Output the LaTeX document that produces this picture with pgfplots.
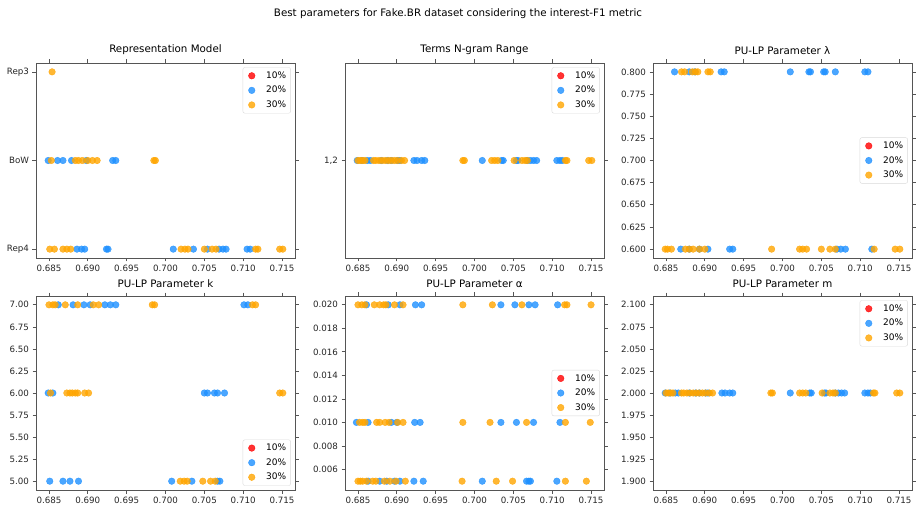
\documentclass[border=0pt]{standalone}
\usepackage{fontspec}
\setmainfont{DejaVu Sans}
\usepackage{pgfplots}
\pgfplotsset{compat=1.18}
\definecolor{c10}{HTML}{FF0000}
\definecolor{c20}{HTML}{1E90FF}
\definecolor{c30}{HTML}{FFA500}
\definecolor{spine}{HTML}{555555}

\pgfplotsset{
  panel/.style={
    scale only axis, width=259pt, height=195pt, anchor=south west,
    xmin=0.68333, xmax=0.71667,
    xtick={0.685,0.690,0.695,0.700,0.705,0.710,0.715},
    scaled x ticks=false, scaled y ticks=false,
    /pgf/number format/assume math mode=true,
    xticklabel style={/pgf/number format/fixed, /pgf/number format/fixed zerofill, /pgf/number format/precision=3},
    tick label style={font=\fontsize{8.7}{10}\selectfont, text=black!85},
    tick align=outside, major tick length=3.5pt,
    every tick/.style={spine, line width=0.7pt},
    axis line style={spine, line width=0.8pt},
    title style={font=\fontsize{10.3}{12}\selectfont, yshift=-1pt},
    legend style={at={(0.984,0.978)}, anchor=north east, draw=black!15, rounded corners=2pt,
      fill=white, fill opacity=0.8, text opacity=1, font=\fontsize{9}{10}\selectfont,
      cells={anchor=west}, row sep=4pt, inner xsep=3pt, inner ysep=3pt,
      nodes={inner xsep=1.5pt, inner ysep=1.2pt},
      /tikz/every odd column/.append style={column sep=7pt}},
    clip=false,
  },
  pt/.style={only marks, mark=*, mark size=3.3pt, color=#1, opacity=0.8,
    mark options={draw=none, fill=#1},
    legend image code/.code={\path (0cm,0cm) (0.4cm,0cm);
      \fill[#1, opacity=0.8] (0.2cm,0cm) circle[radius=3.3pt];}},
  pt10/.style={pt=c10},
  pt20/.style={pt=c20},
  pt30/.style={pt=c30},
}

\begin{document}
\begin{tikzpicture}
\path[use as bounding box] (0pt,0pt) rectangle (916pt,509pt);
\node[font=\fontsize{10.3}{12}\selectfont] at (458pt,495pt) {Best parameters for Fake.BR dataset considering the interest-F1 metric};

% Representation Model
\begin{axis}[panel, at={(36pt,251pt)}, title={Representation Model},
  ymin=-0.1, ymax=2.1, ytick={0,1,2}, yticklabels={Rep4,BoW,Rep3}]
\addlegendimage{pt10}\addlegendentry{10\%}
\addplot[pt20] coordinates {
 (0.6849,1)(0.6861,1)(0.6868,1)(0.6879,1)(0.6898,1)(0.6932,1)(0.6936,1)
 (0.6886,0)(0.6892,0)(0.6896,0)(0.6924,0)(0.6926,0)(0.7010,0)(0.7036,0)(0.7054,0)
 (0.7069,0)(0.7074,0)(0.7078,0)(0.7105,0)(0.7109,0)};
\addlegendentry{20\%}
\addplot[pt30] coordinates {
 (0.6854,2)
 (0.6853,1)(0.6884,1)(0.6888,1)(0.6893,1)(0.6900,1)(0.6906,1)(0.6912,1)(0.6985,1)(0.6987,1)
 (0.6851,0)(0.6857,0)(0.6868,0)(0.6873,0)(0.6878,0)(0.7020,0)(0.7025,0)(0.7029,0)
 (0.7050,0)(0.7060,0)(0.7065,0)(0.7116,0)(0.7119,0)(0.7147,0)(0.7151,0)};
\addlegendentry{30\%}
\end{axis}

% Terms N-gram Range
\begin{axis}[panel, at={(345pt,251pt)}, title={Terms N-gram Range},
  ymin=-1, ymax=1, ytick={0}, yticklabels={1{,}2}]
\addlegendimage{pt10}\addlegendentry{10\%}
\addplot[pt20] coordinates {
 (0.6849,0)(0.6855,0)(0.6862,0)(0.6866,0)(0.6880,0)(0.6888,0)(0.6893,0)(0.6901,0)(0.6904,0)
 (0.6922,0)(0.6926,0)(0.6932,0)(0.6936,0)(0.7010,0)(0.7035,0)(0.7037,0)(0.7054,0)(0.7056,0)
 (0.7068,0)(0.7072,0)(0.7076,0)(0.7080,0)(0.7106,0)(0.7110,0)(0.7113,0)};
\addlegendentry{20\%}
\addplot[pt30] coordinates {
 (0.6850,0)(0.6853,0)(0.6856,0)(0.6859,0)(0.6870,0)(0.6873,0)(0.6877,0)(0.6881,0)(0.6885,0)
 (0.6889,0)(0.6893,0)(0.6897,0)(0.6901,0)(0.6906,0)(0.6910,0)(0.6985,0)(0.6987,0)(0.7022,0)
 (0.7026,0)(0.7030,0)(0.7051,0)(0.7061,0)(0.7065,0)(0.7068,0)(0.7117,0)(0.7119,0)(0.7147,0)(0.7151,0)};
\addlegendentry{30\%}
\end{axis}

% PU-LP Parameter lambda
\begin{axis}[panel, at={(653pt,251pt)}, title={PU-LP Parameter λ},
  ymin=0.59, ymax=0.81, ytick={0.6,0.625,0.65,0.675,0.7,0.725,0.75,0.775,0.8},
  yticklabel style={/pgf/number format/fixed, /pgf/number format/fixed zerofill, /pgf/number format/precision=3},
  legend style={at={(0.984,0.5)}, anchor=east}]
\addlegendimage{pt10}\addlegendentry{10\%}
\addplot[pt20] coordinates {
 (0.6861,0.8)(0.6880,0.8)(0.6887,0.8)(0.6921,0.8)(0.6925,0.8)(0.7010,0.8)(0.7034,0.8)(0.7036,0.8)
 (0.7053,0.8)(0.7055,0.8)(0.7068,0.8)(0.7106,0.8)(0.7110,0.8)
 (0.6869,0.6)(0.6880,0.6)(0.6893,0.6)(0.6904,0.6)(0.6932,0.6)(0.6936,0.6)(0.7070,0.6)
 (0.7075,0.6)(0.7081,0.6)(0.7115,0.6)};
\addlegendentry{20\%}
\addplot[pt30] coordinates {
 (0.6870,0.8)(0.6874,0.8)(0.6884,0.8)(0.6888,0.8)(0.6891,0.8)(0.6904,0.8)(0.6907,0.8)
 (0.6849,0.6)(0.6852,0.6)(0.6857,0.6)(0.6875,0.6)(0.6880,0.6)(0.6885,0.6)(0.6893,0.6)(0.6900,0.6)
 (0.6986,0.6)(0.7022,0.6)(0.7026,0.6)(0.7031,0.6)(0.7050,0.6)(0.7061,0.6)(0.7068,0.6)
 (0.7118,0.6)(0.7145,0.6)(0.7151,0.6)};
\addlegendentry{30\%}
\end{axis}

% PU-LP Parameter k
\begin{axis}[panel, at={(36pt,19pt)}, height=194pt, title={PU-LP Parameter k},
  ymin=4.9, ymax=7.1, ytick={5,5.25,5.5,5.75,6,6.25,6.5,6.75,7},
  yticklabel style={/pgf/number format/fixed, /pgf/number format/fixed zerofill, /pgf/number format/precision=2},
  legend style={at={(0.984,0.022)}, anchor=south east}]
\addlegendimage{pt10}\addlegendentry{10\%}
\addplot[pt20] coordinates {
 (0.6862,7)(0.6881,7)(0.6895,7)(0.6903,7)(0.6922,7)(0.6929,7)(0.6936,7)(0.7101,7)(0.7106,7)
 (0.6849,6)(0.6855,6)(0.7050,6)(0.7054,6)(0.7063,6)(0.7067,6)(0.7076,6)
 (0.6851,5)(0.6868,5)(0.6877,5)(0.6888,5)(0.7008,5)(0.7034,5)(0.7067,5)(0.7070,5)};
\addlegendentry{20\%}
\addplot[pt30] coordinates {
 (0.6850,7)(0.6855,7)(0.6858,7)(0.6871,7)(0.6887,7)(0.6907,7)(0.6914,7)(0.6983,7)(0.6986,7)
 (0.7112,7)(0.7116,7)
 (0.6852,6)(0.6873,6)(0.6877,6)(0.6880,6)(0.6884,6)(0.6887,6)(0.6896,6)(0.6901,6)(0.7147,6)(0.7151,6)
 (0.7019,5)(0.7024,5)(0.7028,5)(0.7048,5)(0.7058,5)(0.7064,5)};
\addlegendentry{30\%}
\end{axis}

% PU-LP Parameter alpha
\begin{axis}[panel, at={(345pt,19pt)}, height=194pt, title={PU-LP Parameter α},
  ymin=0.00425, ymax=0.02075, ytick={0.006,0.008,0.010,0.012,0.014,0.016,0.018,0.020},
  yticklabel style={/pgf/number format/fixed, /pgf/number format/fixed zerofill, /pgf/number format/precision=3},
  legend style={at={(0.984,0.5)}, anchor=east}]
\addlegendimage{pt10}\addlegendentry{10\%}
\addplot[pt20] coordinates {
 (0.6861,0.02)(0.6889,0.02)(0.6904,0.02)(0.6924,0.02)(0.6932,0.02)(0.7034,0.02)(0.7052,0.02)
 (0.7070,0.02)(0.7078,0.02)(0.7107,0.02)
 (0.6848,0.01)(0.6863,0.01)(0.6893,0.01)(0.6900,0.01)(0.6923,0.01)(0.6930,0.01)(0.7034,0.01)
 (0.7054,0.01)(0.7076,0.01)(0.7110,0.01)
 (0.6863,0.005)(0.6878,0.005)(0.6887,0.005)(0.6897,0.005)(0.6904,0.005)(0.6922,0.005)(0.6934,0.005)
 (0.7010,0.005)(0.7067,0.005)(0.7070,0.005)(0.7072,0.005)(0.7106,0.005)};
\addlegendentry{20\%}
\addplot[pt30] coordinates {
 (0.6850,0.02)(0.6855,0.02)(0.6859,0.02)(0.6871,0.02)(0.6878,0.02)(0.6883,0.02)(0.6886,0.02)
 (0.6897,0.02)(0.6908,0.02)(0.6985,0.02)(0.7023,0.02)(0.7061,0.02)(0.7116,0.02)(0.7119,0.02)(0.7150,0.02)
 (0.6852,0.01)(0.6856,0.01)(0.6859,0.01)(0.6874,0.01)(0.6878,0.01)(0.6885,0.01)(0.6890,0.01)
 (0.6901,0.01)(0.6908,0.01)(0.6985,0.01)(0.7020,0.01)(0.7067,0.01)(0.7117,0.01)(0.7149,0.01)
 (0.6850,0.005)(0.6853,0.005)(0.6856,0.005)(0.6861,0.005)(0.6869,0.005)(0.6873,0.005)(0.6884,0.005)
 (0.6891,0.005)(0.6899,0.005)(0.6911,0.005)(0.6984,0.005)(0.7028,0.005)(0.7049,0.005)(0.7117,0.005)(0.7144,0.005)};
\addlegendentry{30\%}
\end{axis}

% PU-LP Parameter m
\begin{axis}[panel, at={(653pt,19pt)}, height=194pt, title={PU-LP Parameter m},
  ymin=1.89, ymax=2.11, ytick={1.9,1.925,1.95,1.975,2,2.025,2.05,2.075,2.1},
  yticklabel style={/pgf/number format/fixed, /pgf/number format/fixed zerofill, /pgf/number format/precision=3}]
\addlegendimage{pt10}\addlegendentry{10\%}
\addplot[pt20] coordinates {
 (0.6849,2)(0.6855,2)(0.6862,2)(0.6866,2)(0.6880,2)(0.6888,2)(0.6893,2)(0.6901,2)(0.6904,2)
 (0.6922,2)(0.6926,2)(0.6932,2)(0.6936,2)(0.7010,2)(0.7035,2)(0.7037,2)(0.7054,2)(0.7056,2)
 (0.7068,2)(0.7072,2)(0.7076,2)(0.7080,2)(0.7106,2)(0.7110,2)(0.7113,2)};
\addlegendentry{20\%}
\addplot[pt30] coordinates {
 (0.6850,2)(0.6853,2)(0.6856,2)(0.6859,2)(0.6870,2)(0.6873,2)(0.6877,2)(0.6881,2)(0.6885,2)
 (0.6889,2)(0.6893,2)(0.6897,2)(0.6901,2)(0.6906,2)(0.6910,2)(0.6985,2)(0.6987,2)(0.7022,2)
 (0.7026,2)(0.7030,2)(0.7051,2)(0.7061,2)(0.7065,2)(0.7068,2)(0.7117,2)(0.7119,2)(0.7147,2)(0.7151,2)};
\addlegendentry{30\%}
\end{axis}
\end{tikzpicture}
\end{document}
